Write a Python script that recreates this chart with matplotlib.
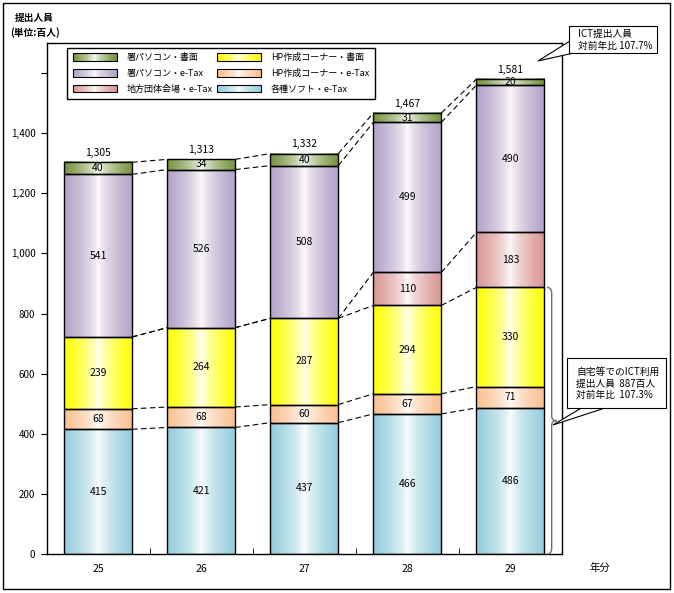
import numpy as np
import matplotlib
matplotlib.use("Agg")
import matplotlib.pyplot as plt
from matplotlib.patches import Rectangle, Polygon, PathPatch, Patch
from matplotlib.path import Path
from matplotlib.legend_handler import HandlerBase
from matplotlib.colors import to_rgb

plt.rcParams['font.family'] = ['Noto Sans CJK JP', 'DejaVu Sans']

years = ['25', '26', '27', '28', '29']
# stack order: bottom -> top
names = ['各種ソフト・e-Tax', 'HP作成コーナー・e-Tax', 'HP作成コーナー・書面',
         '地方団体会場・e-Tax', '署パソコン・e-Tax', '署パソコン・書面']
soft_etax = [415, 421, 437, 466, 486]
hp_etax = [68, 68, 60, 67, 71]
hp_paper = [239, 264, 287, 294, 330]
local_etax = [0, 0, 0, 110, 183]
office_etax = [541, 526, 508, 499, 490]
office_paper = [40, 34, 40, 31, 20]
totals = [1305, 1313, 1332, 1467, 1581]
colors = ['#93CDDD', '#FAC090', '#FFFF00', '#D99694', '#B3A2C7', '#77933C']

series = [soft_etax, hp_etax, hp_paper, local_etax, office_etax, office_paper]
W, H = 674, 593


def px(x, y):
    return (x / W, 1 - y / H)


def grad_rgb(c, n=64):
    u = np.linspace(0, 1, n)
    t = np.abs(2 * u - 1) ** 0.65
    c = np.array(to_rgb(c))
    return (1 - t)[:, None] * np.ones(3) + t[:, None] * c


fig = plt.figure(figsize=(W / 100, H / 100), dpi=100)
ax = fig.add_axes([46.5 / W, 1 - 554 / H, (562 - 46.5) / W, (554 - 43) / H])

x = np.arange(len(years))
bw = 0.66
bottom = np.zeros(len(years))
cums = []
for vals, col in zip(series, colors):
    vals = np.array(vals, dtype=float)
    img = grad_rgb(col)[None, :, :]
    for i in range(len(years)):
        if vals[i] <= 0:
            continue
        ax.imshow(img, extent=(x[i] - bw / 2, x[i] + bw / 2, bottom[i], bottom[i] + vals[i]),
                  aspect='auto', interpolation='bilinear', zorder=1)
        ax.bar(x[i], vals[i], bw, bottom=bottom[i], fill=False, edgecolor='black',
               linewidth=1.0, zorder=2)
        ax.text(x[i], bottom[i] + vals[i] / 2, f'{int(vals[i])}', ha='center', va='center',
                fontsize=7.5, zorder=3)
    bottom = bottom + vals
    cums.append(bottom.copy())

# dashed connectors
for cum in cums:
    for i in range(len(years) - 1):
        ax.plot([x[i] + bw / 2, x[i + 1] - bw / 2], [cum[i], cum[i + 1]],
                color='black', lw=0.8, ls=(0, (5, 3)), zorder=2)

for i in range(len(years)):
    ax.annotate(f'{totals[i]:,}', (x[i], bottom[i]), xytext=(0, 3),
                textcoords='offset points', ha='center', va='bottom', fontsize=7.5)

ax.set_xlim(-0.5, len(years) - 0.5)
ax.set_ylim(0, 1700)
ax.set_yticks(np.arange(0, 1601, 200))
ax.set_yticklabels([f'{v:,}' if v <= 1400 else '' for v in range(0, 1601, 200)], fontsize=7)
ax.set_xticks(x)
ax.set_xticklabels(years, fontsize=7.5)
ax.tick_params(axis='x', which='major', length=0, pad=7)
ax.set_xticks(np.arange(0.5, len(years) - 1, 1), minor=True)
ax.tick_params(axis='x', which='minor', direction='in', length=4)
ax.tick_params(axis='y', direction='out', length=4, pad=4)
for s in ax.spines.values():
    s.set_linewidth(1.0)

# brace beside last bar
ict = soft_etax[-1] + hp_etax[-1] + hp_paper[-1]
mid = ict / 2
xl, xm, xt = 4.355, 4.40, 4.45
verts = [(xl, ict), (xm, ict), (xm, ict - 20), (xm, mid + 15), (xm, mid), (xt, mid),
         (xm, mid), (xm, mid - 15), (xm, 20), (xm, 0), (xl, 0)]
codes = [Path.MOVETO, Path.CURVE3, Path.CURVE3, Path.LINETO, Path.CURVE3, Path.CURVE3,
         Path.CURVE3, Path.CURVE3, Path.LINETO, Path.CURVE3, Path.CURVE3]
ax.add_patch(PathPatch(Path(verts, codes), fill=False, edgecolor='#707070', lw=1.0,
                       clip_on=False, zorder=3))


class GradHandler(HandlerBase):
    def create_artists(self, legend, orig_handle, xdescent, ydescent, width, height,
                       fontsize, trans):
        cols = grad_rgb(orig_handle.get_facecolor(), 40)
        n = len(cols)
        arts = []
        for j, c in enumerate(cols):
            arts.append(Rectangle((-xdescent + j * width / n, -ydescent), width / n * 1.05,
                                  height, facecolor=c, edgecolor='none', lw=0, transform=trans))
        arts.append(Rectangle((-xdescent, -ydescent), width, height, fill=False,
                              edgecolor='black', lw=0.8, transform=trans))
        return arts


leg_order = [5, 4, 3, 2, 1, 0]
handles = [Patch(facecolor=colors[k]) for k in leg_order]
labels = [names[k] for k in leg_order]
leg = ax.legend(handles, labels, handler_map={Patch: GradHandler()}, ncols=2,
                loc='lower left', bbox_to_anchor=(0.04, 0.89, 0.597, 0.10), mode='expand',
                borderaxespad=0, fontsize=6.5, handlelength=4.9, handleheight=0.9,
                labelspacing=0.75, handletextpad=1.1, borderpad=0.6, fancybox=False,
                edgecolor='black', framealpha=1)
leg.get_frame().set_linewidth(1.0)

# outer frame
fig.add_artist(Rectangle(px(3, 589), 667 / W, 586 / H, transform=fig.transFigure,
                         fill=False, edgecolor='black', lw=1.0))

fig.text(*px(15, 18), '提出人員', fontsize=7, fontweight='bold', va='center')
fig.text(*px(10, 33), '(単位:百人)', fontsize=7, fontweight='bold', va='center')
fig.text(*px(590, 568), '年分', fontsize=7.5, va='center')

# callouts
fig.add_artist(Polygon([px(570, 41), px(538, 61), px(578, 52)], closed=True,
                       transform=fig.transFigure, facecolor='white', edgecolor='black', lw=0.8))
fig.add_artist(Rectangle(px(569, 53), 88 / W, 27 / H, transform=fig.transFigure,
                         facecolor='white', edgecolor='black', lw=0.8))
fig.text(*px(578, 34), 'ICT提出人員', fontsize=7, va='center')
fig.text(*px(578, 46), '対前年比 107.7%', fontsize=7, va='center')

fig.add_artist(Polygon([px(583, 407), px(553, 425), px(608, 407)], closed=True,
                       transform=fig.transFigure, facecolor='white', edgecolor='black', lw=0.8))
fig.add_artist(Rectangle(px(567, 408), 99 / W, 50 / H, transform=fig.transFigure,
                         facecolor='white', edgecolor='black', lw=0.8))
fig.text(*px(576, 372), '自宅等でのICT利用', fontsize=7, va='center')
fig.text(*px(576, 384), '提出人員  887百人', fontsize=7, va='center')
fig.text(*px(576, 395), '対前年比  107.3%', fontsize=7, va='center')

fig.savefig('out.png', dpi=100)
